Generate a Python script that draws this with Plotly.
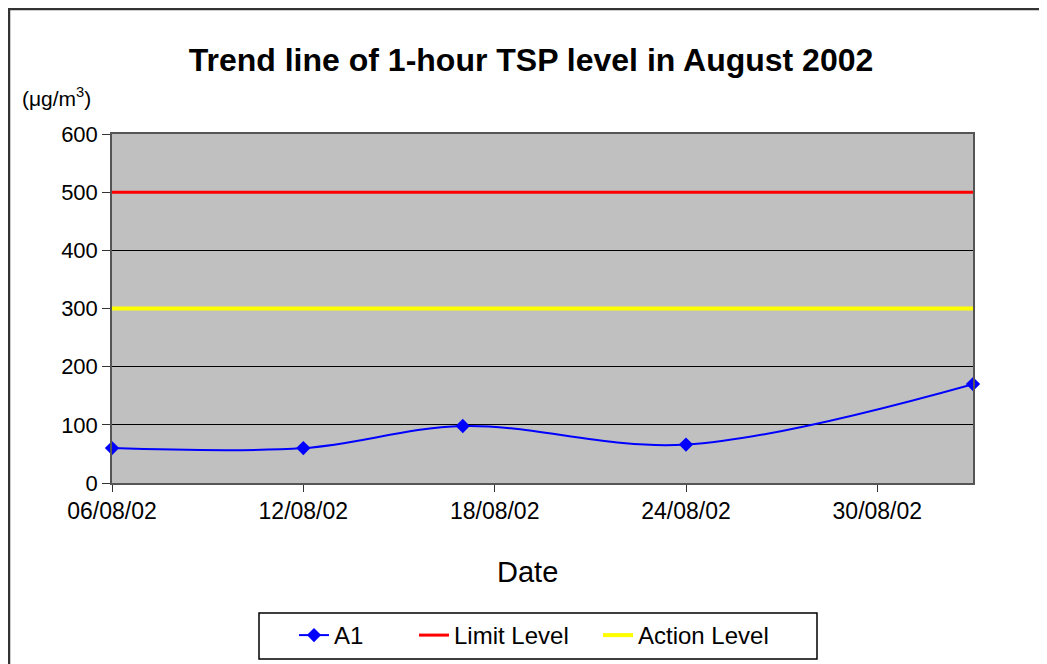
import plotly.graph_objects as go

dates = ["2002-08-06", "2002-08-12", "2002-08-17", "2002-08-24", "2002-09-02"]
a1_values = [60, 60, 98, 66, 170]
limit_level = [500, 500, 500, 500, 500]
action_level = [300, 300, 300, 300, 300]
y_ticks = [0, 100, 200, 300, 400, 500, 600]

# page is offset by the 8px body margin
OFF = 8
PW, PH = 1047, 664
W, H = PW - OFF, PH - OFF
PL, PR, PT, PB = 112, 973, 134, 483  # plot area in page pixels
L, T = PL - OFF, PT - OFF
R, B = PW - PR, PH - PB
pw, ph = PR - PL, PB - PT

def px_x(p):
    return (p - PL) / pw

def px_y(p):
    return (PB - p) / ph

font = "Liberation Sans, Arial, sans-serif"

fig = go.Figure()
fig.add_trace(go.Scatter(
    x=dates, y=a1_values, name="A1", mode="lines+markers",
    line=dict(color="#0000FF", width=2, shape="spline", smoothing=1.0),
    marker=dict(symbol="diamond", size=11, color="#0000FF"),
    cliponaxis=False, legend="legend",
))
fig.add_trace(go.Scatter(
    x=dates, y=limit_level, name="Limit Level", mode="lines",
    line=dict(color="#FF0000", width=3), legend="legend2",
))
fig.add_trace(go.Scatter(
    x=dates, y=action_level, name="Action Level", mode="lines",
    line=dict(color="#FFFF00", width=4), legend="legend3",
))

def leg(text_start):
    return dict(
        orientation="h", x=px_x(text_start - 40), xanchor="left",
        y=px_y(613), yanchor="top",
        borderwidth=0, bgcolor="rgba(0,0,0,0)",
        font=dict(size=24, family=font),
    )

fig.update_layout(
    width=W, height=H,
    margin=dict(l=L, r=R, t=T, b=B, autoexpand=False),
    paper_bgcolor="white",
    plot_bgcolor="#C0C0C0",
    font=dict(family=font, color="black", size=20),
    title=dict(
        text="<b>Trend line of 1-hour TSP level in August 2002</b>",
        x=px_x(531), xref="paper", xanchor="center",
        y=1 - (60 - OFF) / H, yanchor="middle",
        font=dict(size=32, family=font),
    ),
    showlegend=True,
    legend=leg(334),
    legend2=leg(454),
    legend3=leg(638),
    xaxis=dict(
        type="date",
        range=["2002-08-06", "2002-09-02"],
        tick0="2002-08-06", dtick=6 * 86400000,
        tickformat="%d/%m/%y",
        ticks="outside", ticklen=7, tickcolor="#333333",
        showgrid=False,
        showline=True, linecolor="#555555", linewidth=1.5, mirror=True,
        tickfont=dict(size=23),
        zeroline=False,
    ),
    yaxis=dict(
        range=[0, 600],
        tickvals=y_ticks,
        ticks="outside", ticklen=8, tickcolor="#333333",
        showgrid=True, gridcolor="#000000", gridwidth=1,
        showline=True, linecolor="#555555", linewidth=1.5, mirror=True,
        tickfont=dict(size=22),
        zeroline=False,
    ),
    shapes=[
        dict(
            type="rect", xref="paper", yref="paper",
            x0=px_x(9), x1=px_x(1043), y0=px_y(700), y1=px_y(9),
            line=dict(color="#333333", width=2.5), fillcolor="rgba(0,0,0,0)",
            layer="below",
        ),
        dict(
            type="rect", xref="paper", yref="paper",
            x0=px_x(259), x1=px_x(817), y0=px_y(659), y1=px_y(613),
            line=dict(color="black", width=1.5), fillcolor="white",
            layer="below",
        ),
    ],
    annotations=[
        dict(
            text="(\u03bcg/m<sup>3</sup>)", xref="paper", yref="paper",
            x=px_x(20), y=px_y(97), xanchor="left", yanchor="middle",
            showarrow=False, font=dict(size=21, family=font),
        ),
        dict(
            text="Date", xref="paper", yref="paper",
            x=px_x(527), y=px_y(572), xanchor="center", yanchor="middle",
            showarrow=False, font=dict(size=29, family=font),
        ),
    ],
)

fig.write_html("out.html")
